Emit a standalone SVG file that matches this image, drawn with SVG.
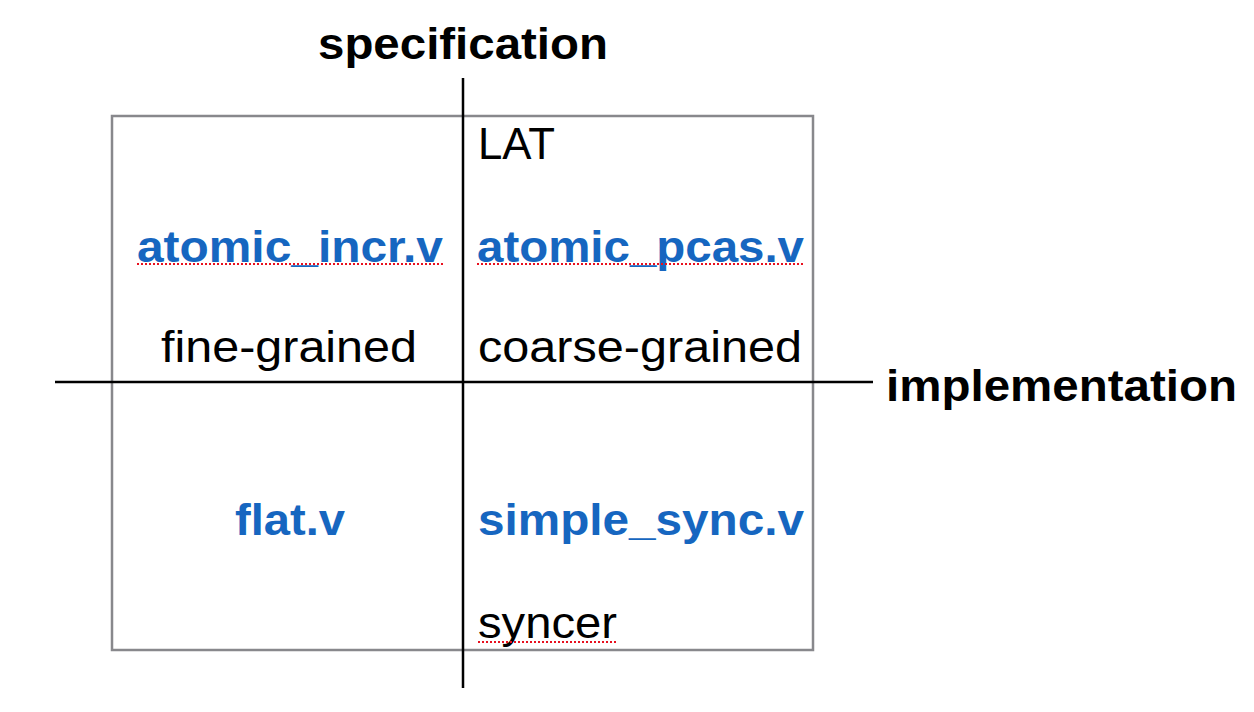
<svg xmlns="http://www.w3.org/2000/svg" width="1254" height="712" viewBox="0 0 1254 712">
  <style>
    .axis { stroke: #000; stroke-width: 2.5; fill: none; }
    .frame { stroke: #88888c; stroke-width: 2.5; fill: none; }
    .title { font-family: "Liberation Sans", Arial, sans-serif; font-weight: bold; font-size: 44px; fill: #000; }
    .file { font-family: "Liberation Sans", Arial, sans-serif; font-weight: bold; font-size: 44px; fill: #1666c0; }
    .plain { font-family: "Liberation Sans", Arial, sans-serif; font-size: 45px; fill: #000; }
    .squiggle { stroke: #e8101e; stroke-width: 2; stroke-dasharray: 2 2; fill: none; }
  </style>
  <rect width="1254" height="712" fill="#fff"/>
  <g id="frame">
    <rect class="frame" x="112" y="116" width="701" height="534"/>
  </g>
  <g id="connectors">
    <line class="axis" x1="463" y1="78" x2="463" y2="688"/>
    <line class="axis" x1="55" y1="382" x2="873" y2="382"/>
  </g>
  <g id="specification">
    <text class="title" x="318" y="59" textLength="290" lengthAdjust="spacingAndGlyphs">specification</text>
  </g>
  <g id="implementation">
    <text class="title" x="886" y="401" textLength="351" lengthAdjust="spacingAndGlyphs">implementation</text>
  </g>
  <g id="lat">
    <text class="plain" x="478" y="159" textLength="77" lengthAdjust="spacingAndGlyphs">LAT</text>
  </g>
  <g id="atomic_incr">
    <text class="file" x="137" y="262" textLength="306" lengthAdjust="spacingAndGlyphs">atomic_incr.v</text>
    <line class="squiggle" x1="137" y1="264" x2="443" y2="264"/>
  </g>
  <g id="atomic_pcas">
    <text class="file" x="477" y="262" textLength="327" lengthAdjust="spacingAndGlyphs">atomic_pcas.v</text>
    <line class="squiggle" x1="477" y1="264" x2="804" y2="264"/>
  </g>
  <g id="fine_grained">
    <text class="plain" x="161" y="362" textLength="256" lengthAdjust="spacingAndGlyphs">fine-grained</text>
  </g>
  <g id="coarse_grained">
    <text class="plain" x="478" y="362" textLength="324" lengthAdjust="spacingAndGlyphs">coarse-grained</text>
  </g>
  <g id="flat">
    <text class="file" x="235" y="535" textLength="110" lengthAdjust="spacingAndGlyphs">flat.v</text>
  </g>
  <g id="simple_sync">
    <text class="file" x="478" y="535" textLength="326" lengthAdjust="spacingAndGlyphs">simple_sync.v</text>
  </g>
  <g id="syncer">
    <text class="plain" x="478" y="638" textLength="139" lengthAdjust="spacingAndGlyphs">syncer</text>
    <line class="squiggle" x1="478" y1="642" x2="617" y2="642"/>
  </g>
</svg>
